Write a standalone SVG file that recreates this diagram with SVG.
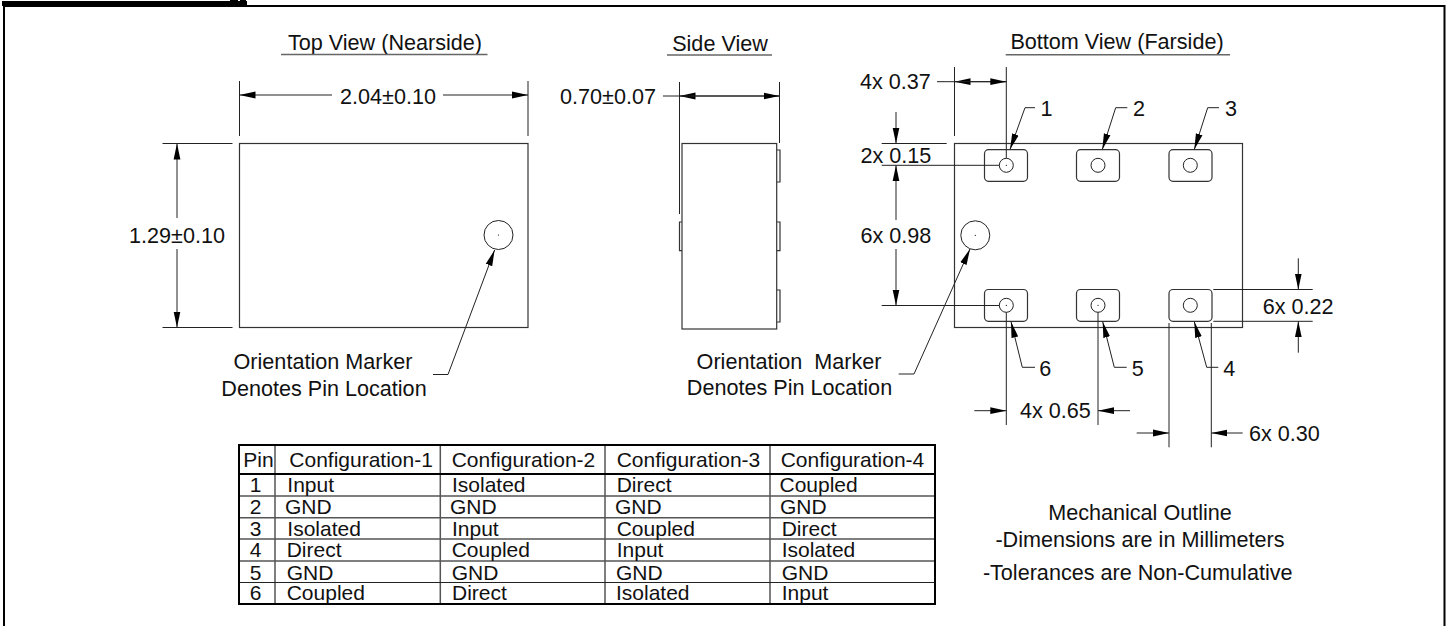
<svg xmlns="http://www.w3.org/2000/svg" width="1447" height="626" viewBox="0 0 1447 626">
<style>
text{font-family:"Liberation Sans",Arial,sans-serif;font-size:21.6px;fill:#111}
#pin-table text{font-size:21px}
.m{text-anchor:middle}
.l{fill:none;stroke:#222;stroke-width:1}
.u{fill:none;stroke:#666;stroke-width:1.6}
.s{fill:#fff;stroke:#333;stroke-width:1.2}
.a{fill:none;stroke:#222;stroke-width:1;marker-end:url(#ah)}
.d{fill:#000}
.tg{stroke:#555;stroke-width:1.5;fill:none}
.tb{stroke:#000;stroke-width:2;fill:none}
</style>
<defs>
<marker id="ah" markerUnits="userSpaceOnUse" markerWidth="18" markerHeight="10" refX="16" refY="5" orient="auto"><path d="M16 5L0 1.6V8.4Z" fill="#000"/></marker>
</defs>
<rect width="1447" height="626" fill="#fff"/>
<g id="frame">
<path d="M4 626V6H1444.5V626" fill="none" stroke="#000" stroke-width="2"/>
<rect x="2" y="1" width="245" height="5" fill="#000"/>
<rect x="230" y="0" width="8" height="1" fill="#000"/>
<rect x="240" y="0" width="6" height="1" fill="#000"/>
</g>
<g id="top-view">
<text class="m" x="385" y="50">Top View (Nearside)</text>
<path class="u" d="M281 54.5H487.5"/>
<rect class="s" x="239.5" y="143.5" width="288.5" height="184"/>
<circle class="l" cx="498.5" cy="235" r="14.5"/>
<circle class="d" cx="498.5" cy="235" r="0.6"/>
<text class="m" x="388" y="104">2.04±0.10</text>
<text class="m" x="177" y="243">1.29±0.10</text>
<text class="m" x="323" y="369">Orientation Marker</text>
<text class="m" x="324" y="395.5">Denotes Pin Location</text>
</g>
<g id="side-view">
<text class="m" x="720" y="50.5">Side View</text>
<path class="u" d="M667 55H772"/>
<path class="s" d="M776.7 150H780V182H776.7M776.7 222H780V250.7H776.7M776.7 290H780V322H776.7M682 222H679.5V250.7H682"/>
<rect class="s" x="682" y="143.5" width="94.7" height="185.5"/>
<text x="560" y="103.5">0.70±0.07</text>
<text class="m" x="789" y="369" xml:space="preserve">Orientation  Marker</text>
<text class="m" x="789.5" y="395">Denotes Pin Location</text>
</g>
<g id="bottom-view">
<text class="m" x="1117" y="49">Bottom View (Farside)</text>
<path class="u" d="M1005.7 54.7H1230"/>
<rect class="s" x="954.5" y="143.5" width="288" height="184"/>
<g class="pads">
<rect class="s" x="984.5" y="149.7" width="43" height="31.6" rx="4"/>
<rect class="s" x="1076.5" y="149.7" width="43" height="31.6" rx="4"/>
<rect class="s" x="1169" y="149.7" width="43" height="31.6" rx="4"/>
<rect class="s" x="984.5" y="289.5" width="43" height="31.8" rx="4"/>
<rect class="s" x="1076.5" y="289.5" width="43" height="31.8" rx="4"/>
<rect class="s" x="1169" y="289.5" width="43" height="31.8" rx="4"/>
<circle class="l" cx="1006.3" cy="165.3" r="7"/>
<circle class="l" cx="1098" cy="165.3" r="7"/>
<circle class="l" cx="1190.3" cy="165.3" r="7"/>
<circle class="l" cx="1006.3" cy="305.3" r="7"/>
<circle class="l" cx="1098" cy="305.3" r="7"/>
<circle class="l" cx="1190.3" cy="305.3" r="7"/>
<circle class="d" cx="1006.3" cy="165.3" r="0.6"/>
<circle class="d" cx="1006.3" cy="305.3" r="0.6"/>
<circle class="d" cx="1098" cy="305.3" r="0.6"/>
</g>
<circle class="l" cx="975.3" cy="235.3" r="14.5"/>
<circle class="d" cx="975.3" cy="235.3" r="0.6"/>
<text x="860" y="89.3">4x 0.37</text>
<text x="860.5" y="163.3">2x 0.15</text>
<text x="860.5" y="242.7">6x 0.98</text>
<text x="1040.5" y="115.7">1</text>
<text x="1133" y="115.7">2</text>
<text x="1225" y="115.7">3</text>
<text x="1039.3" y="375.7">6</text>
<text x="1131.7" y="375.7">5</text>
<text x="1223.3" y="375.7">4</text>
<text x="1020" y="418.3">4x 0.65</text>
<text x="1249" y="440.7">6x 0.30</text>
<text x="1262.7" y="314">6x 0.22</text>
</g>
<g id="connectors">
<path class="l" d="M239.5 81V136M528 81V136M162.5 143.5H232.5M162.5 327.5H232.5"/>
<path class="a" d="M332 95H239.5"/>
<path class="a" d="M443 95H528"/>
<path class="a" d="M177 218V143.5"/>
<path class="a" d="M177 249V327.5"/>
<path class="a" d="M433 374.5H448L494.6 250"/>
<path class="l" d="M679.5 82V214M779.5 82V143"/>
<path class="a" d="M663 96H679.5M779.5 96H679.5"/>
<path class="a" d="M679.5 96H779.5"/>
<path class="l" d="M954.5 67V136M1006.3 67V158M881.7 143.5H946.7M881.7 165.3H999.3M881.7 305.5H999.3"/>
<path class="a" d="M1006.3 81.7H954.5"/>
<path class="a" d="M937 81.7H1006.3"/>
<path class="a" d="M896 112V143.5"/>
<path class="a" d="M896 220V165.3"/>
<path class="a" d="M896 249V305.5"/>
<path class="a" d="M898.7 374H914L970 249"/>
<path class="a" d="M1035 107.7H1025L1010 149.5"/>
<path class="a" d="M1127.3 107.7H1115.7L1102.3 149.5"/>
<path class="a" d="M1219 107.7H1207.7L1194.3 149.5"/>
<path class="a" d="M1035 367.3H1022.3L1011 321.7"/>
<path class="a" d="M1126.7 367.3H1114.3L1102.7 321.7"/>
<path class="a" d="M1218.3 367.3H1206.7L1194.3 321.7"/>
<path class="l" d="M1006.3 312.3V425M1098 312.3V425M1169 323V447.3M1211.3 323V447.3M1213.3 289.5H1312.7M1213.3 321.3H1312.7"/>
<path class="a" d="M974.3 410.7H1006.3"/>
<path class="a" d="M1130 410.7H1098"/>
<path class="a" d="M1136.7 433H1169"/>
<path class="a" d="M1242.7 433H1211.3"/>
<path class="a" d="M1298.3 258.3V289.5"/>
<path class="a" d="M1298.3 352.7V321.3"/>
</g>
<g id="pin-table">
<path class="tg" d="M275 445V604M440.3 445V604M605 445V604M770 445V604M239 496H935M239 517.7H935M239 539H935M239 561H935"/>
<path class="l" d="M239 582.5H935"/>
<path class="tb" d="M239 445H935V604H239ZM239 474H935"/>
<g>
<text x="243.3" y="466.7">Pin</text>
<text x="289.3" y="466.7">Configuration-1</text>
<text x="451.7" y="466.7">Configuration-2</text>
<text x="616.7" y="466.7">Configuration-3</text>
<text x="780.7" y="466.7">Configuration-4</text>
</g>
<g>
<text class="m" x="255.7" y="492.3">1</text><text x="287.3" y="492.3">Input</text><text x="452" y="492.3">Isolated</text><text x="616.7" y="492.3">Direct</text><text x="779.5" y="492.3">Coupled</text>
</g>
<g>
<text class="m" x="255.7" y="514.3">2</text><text x="285" y="514.3">GND</text><text x="450" y="514.3">GND</text><text x="615" y="514.3">GND</text><text x="780" y="514.3">GND</text>
</g>
<g>
<text class="m" x="255.7" y="535.7">3</text><text x="287.3" y="535.7">Isolated</text><text x="452" y="535.7">Input</text><text x="616.7" y="535.7">Coupled</text><text x="781.7" y="535.7">Direct</text>
</g>
<g>
<text class="m" x="255.7" y="556.7">4</text><text x="286.7" y="556.7">Direct</text><text x="451.7" y="556.7">Coupled</text><text x="616.7" y="556.7">Input</text><text x="781.7" y="556.7">Isolated</text>
</g>
<g>
<text class="m" x="255.7" y="580">5</text><text x="286.7" y="580">GND</text><text x="451.7" y="580">GND</text><text x="616" y="580">GND</text><text x="781.7" y="580">GND</text>
</g>
<g>
<text class="m" x="255.7" y="600.3">6</text><text x="286.7" y="600.3">Coupled</text><text x="452" y="600.3">Direct</text><text x="616" y="600.3">Isolated</text><text x="781.7" y="600.3">Input</text>
</g>
</g>
<g id="notes">
<text class="m" x="1140" y="520">Mechanical Outline</text>
<text class="m" x="1140" y="546.7">-Dimensions are in Millimeters</text>
<text class="m" x="1137.7" y="580">-Tolerances are Non-Cumulative</text>
</g>
</svg>
